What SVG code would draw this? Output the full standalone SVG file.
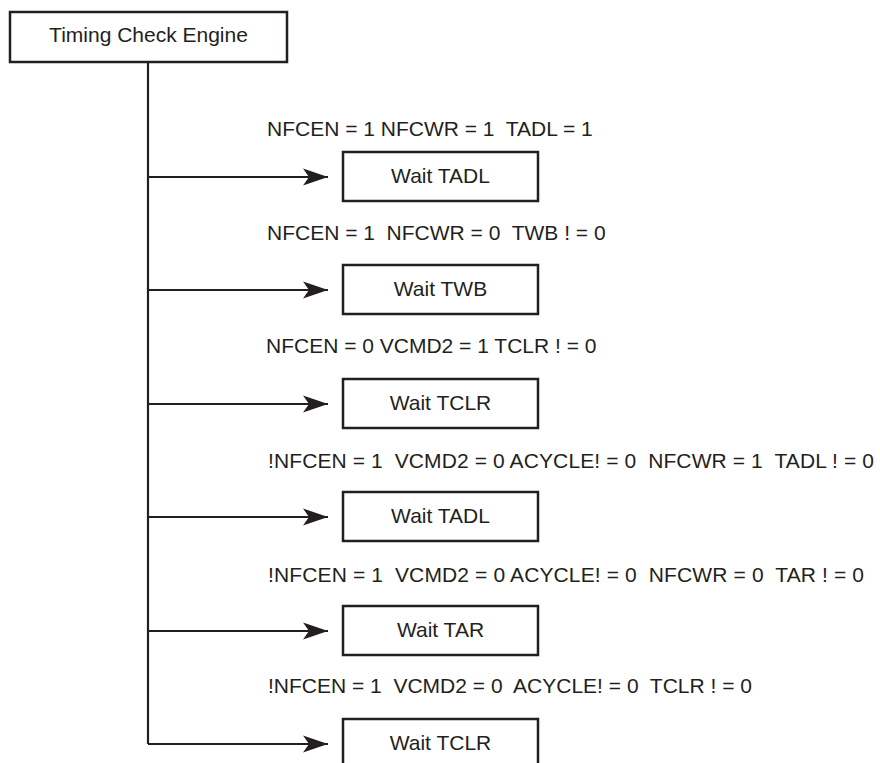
<svg xmlns="http://www.w3.org/2000/svg" width="880" height="763" viewBox="0 0 880 763">
<style>
  .box { fill: #fff; stroke: #231f20; stroke-width: 2.5; }
  .txt { font-family: "Liberation Sans", Arial, sans-serif; font-size: 21px; fill: #231f20; white-space: pre; }
  .mid { text-anchor: middle; }
  .line { fill: none; stroke: #231f20; stroke-width: 2.2; }
</style>
<defs>
  <marker id="arr" markerUnits="userSpaceOnUse" markerWidth="26" markerHeight="18" viewBox="0 0 26 18" refX="25" refY="9" orient="auto">
    <path d="M0,0.5 L25,9 L0,17.5 L6,9 Z" fill="#231f20"/>
  </marker>
</defs>
<rect width="880" height="763" fill="#fff"/>
<g id="connectors">
  <path class="line" d="M148,62 V744"/>
  <path class="line" d="M148,177 H328" marker-end="url(#arr)"/>
  <path class="line" d="M148,290 H328" marker-end="url(#arr)"/>
  <path class="line" d="M148,404 H328" marker-end="url(#arr)"/>
  <path class="line" d="M148,517 H328" marker-end="url(#arr)"/>
  <path class="line" d="M148,631 H328" marker-end="url(#arr)"/>
  <path class="line" d="M148,744 H328" marker-end="url(#arr)"/>
</g>
<g id="labels" xml:space="preserve">
  <text class="txt" x="267" y="136">NFCEN = 1 NFCWR = 1  TADL = 1</text>
  <text class="txt" x="267" y="240">NFCEN = 1  NFCWR = 0  TWB ! = 0</text>
  <text class="txt" x="266" y="353">NFCEN = 0 VCMD2 = 1 TCLR ! = 0</text>
  <text class="txt" x="268" y="468" textLength="606" lengthAdjust="spacing">!NFCEN = 1  VCMD2 = 0 ACYCLE! = 0  NFCWR = 1  TADL ! = 0</text>
  <text class="txt" x="268" y="582" textLength="596" lengthAdjust="spacing">!NFCEN = 1  VCMD2 = 0 ACYCLE! = 0  NFCWR = 0  TAR ! = 0</text>
  <text class="txt" x="268" y="693">!NFCEN = 1  VCMD2 = 0  ACYCLE! = 0  TCLR ! = 0</text>
</g>
<g id="engine">
  <rect class="box" x="10" y="12" width="277" height="50"/>
  <text class="txt mid" x="148.5" y="42">Timing Check Engine</text>
</g>
<g id="wait1">
  <rect class="box" x="343" y="152" width="195" height="49"/>
  <text class="txt mid" x="440.5" y="183">Wait TADL</text>
</g>
<g id="wait2">
  <rect class="box" x="343" y="265" width="195" height="49"/>
  <text class="txt mid" x="440.5" y="296">Wait TWB</text>
</g>
<g id="wait3">
  <rect class="box" x="343" y="379" width="195" height="49"/>
  <text class="txt mid" x="440.5" y="410">Wait TCLR</text>
</g>
<g id="wait4">
  <rect class="box" x="343" y="492" width="195" height="49"/>
  <text class="txt mid" x="440.5" y="523">Wait TADL</text>
</g>
<g id="wait5">
  <rect class="box" x="343" y="606" width="195" height="49"/>
  <text class="txt mid" x="440.5" y="637">Wait TAR</text>
</g>
<g id="wait6">
  <rect class="box" x="343" y="719" width="195" height="60"/>
  <text class="txt mid" x="440.5" y="750">Wait TCLR</text>
</g>
</svg>
